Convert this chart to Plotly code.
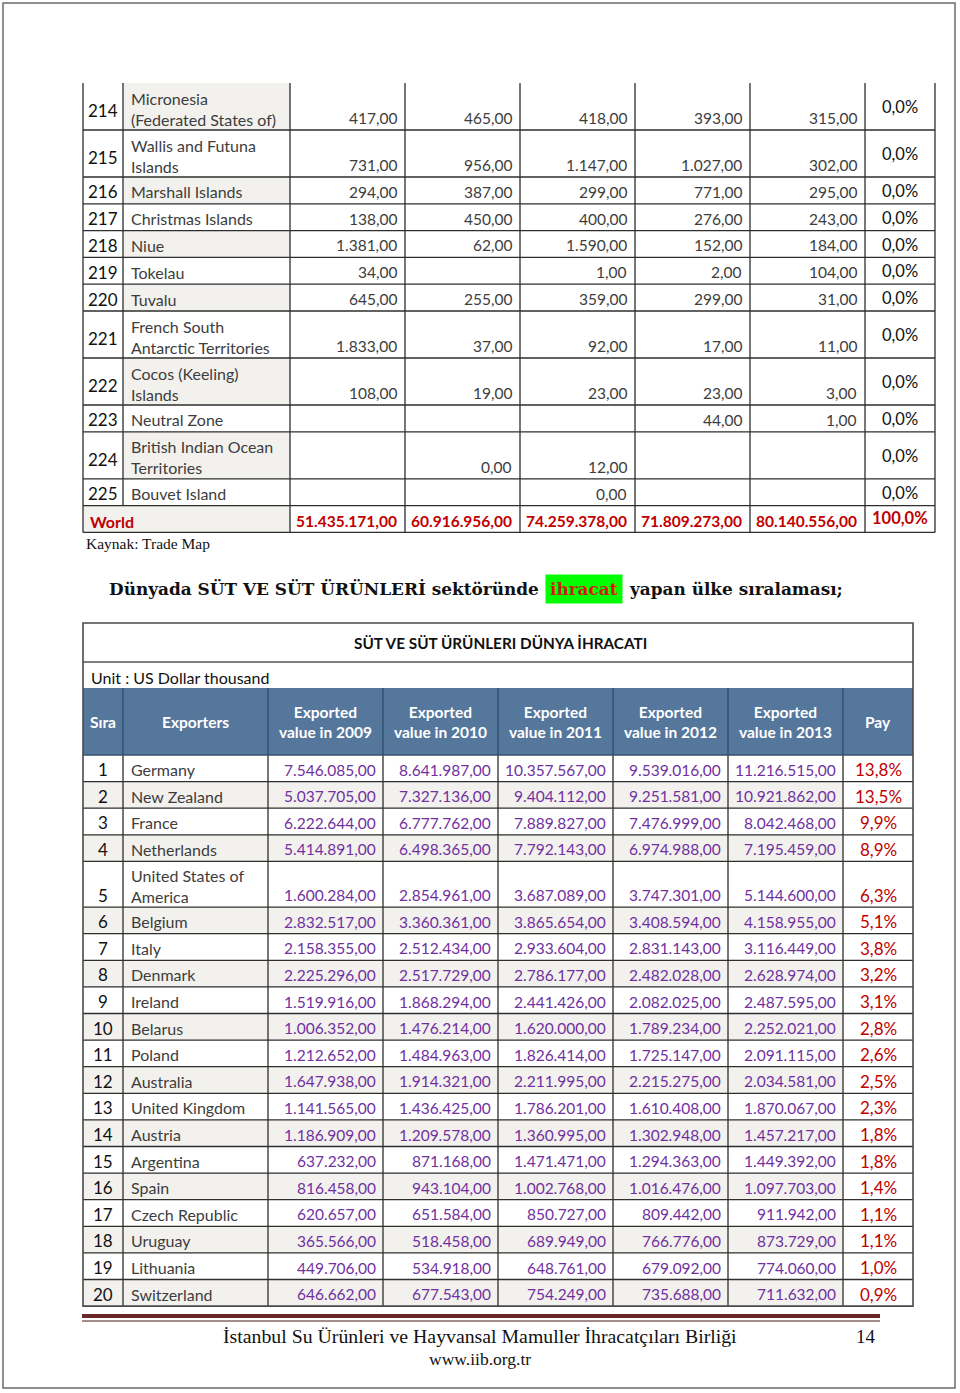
import plotly.graph_objects as go

# ---- upper table: end of the previous page's list ----
t1_rank = ["214", "215", "216", "217", "218", "219", "220", "221", "222", "223", "224", "225"]
t1_name = ["Micronesia<br>(Federated States of)", "Wallis and Futuna<br>Islands", "Marshall Islands",
           "Christmas Islands", "Niue", "Tokelau", "Tuvalu", "French South<br>Antarctic Territories",
           "Cocos (Keeling)<br>Islands", "Neutral Zone", "British Indian Ocean<br>Territories", "Bouvet Island"]
t1_2009 = ["417,00", "731,00", "294,00", "138,00", "1.381,00", "34,00", "645,00", "1.833,00", "108,00", "", "", ""]
t1_2010 = ["465,00", "956,00", "387,00", "450,00", "62,00", "", "255,00", "37,00", "19,00", "", "0,00", ""]
t1_2011 = ["418,00", "1.147,00", "299,00", "400,00", "1.590,00", "1,00", "359,00", "92,00", "23,00", "", "12,00", "0,00"]
t1_2012 = ["393,00", "1.027,00", "771,00", "276,00", "152,00", "2,00", "299,00", "17,00", "23,00", "44,00", "", ""]
t1_2013 = ["315,00", "302,00", "295,00", "243,00", "184,00", "104,00", "31,00", "11,00", "3,00", "1,00", "", ""]
t1_pay = ["0,0%"] * 12
world_label = "World"
world_values = ["51.435.171,00", "60.916.956,00", "74.259.378,00", "71.809.273,00", "80.140.556,00"]
world_pay = "100,0%"
source_note = "Kaynak: Trade Map"

# ---- lower table: top 20 dairy exporters ----
title_left = "Dünyada SÜT VE SÜT ÜRÜNLERİ sektöründe"
title_mark = "ihracat"
title_right = "yapan ülke sıralaması;"
t2_caption = "SÜT VE SÜT ÜRÜNLERI DÜNYA İHRACATI"
t2_unit = "Unit : US Dollar thousand"
t2_headers = ["Sıra", "Exporters", "Exported<br>value in 2009", "Exported<br>value in 2010",
              "Exported<br>value in 2011", "Exported<br>value in 2012", "Exported<br>value in 2013", "Pay"]
t2_rank = [str(i) for i in range(1, 21)]
t2_name = ["Germany", "New Zealand", "France", "Netherlands", "United States of<br>America", "Belgium",
           "Italy", "Denmark", "Ireland", "Belarus", "Poland", "Australia", "United Kingdom", "Austria",
           "Argentina", "Spain", "Czech Republic", "Uruguay", "Lithuania", "Switzerland"]
t2_2009 = ["7.546.085,00", "5.037.705,00", "6.222.644,00", "5.414.891,00", "1.600.284,00", "2.832.517,00",
           "2.158.355,00", "2.225.296,00", "1.519.916,00", "1.006.352,00", "1.212.652,00", "1.647.938,00",
           "1.141.565,00", "1.186.909,00", "637.232,00", "816.458,00", "620.657,00", "365.566,00",
           "449.706,00", "646.662,00"]
t2_2010 = ["8.641.987,00", "7.327.136,00", "6.777.762,00", "6.498.365,00", "2.854.961,00", "3.360.361,00",
           "2.512.434,00", "2.517.729,00", "1.868.294,00", "1.476.214,00", "1.484.963,00", "1.914.321,00",
           "1.436.425,00", "1.209.578,00", "871.168,00", "943.104,00", "651.584,00", "518.458,00",
           "534.918,00", "677.543,00"]
t2_2011 = ["10.357.567,00", "9.404.112,00", "7.889.827,00", "7.792.143,00", "3.687.089,00", "3.865.654,00",
           "2.933.604,00", "2.786.177,00", "2.441.426,00", "1.620.000,00", "1.826.414,00", "2.211.995,00",
           "1.786.201,00", "1.360.995,00", "1.471.471,00", "1.002.768,00", "850.727,00", "689.949,00",
           "648.761,00", "754.249,00"]
t2_2012 = ["9.539.016,00", "9.251.581,00", "7.476.999,00", "6.974.988,00", "3.747.301,00", "3.408.594,00",
           "2.831.143,00", "2.482.028,00", "2.082.025,00", "1.789.234,00", "1.725.147,00", "2.215.275,00",
           "1.610.408,00", "1.302.948,00", "1.294.363,00", "1.016.476,00", "809.442,00", "766.776,00",
           "679.092,00", "735.688,00"]
t2_2013 = ["11.216.515,00", "10.921.862,00", "8.042.468,00", "7.195.459,00", "5.144.600,00", "4.158.955,00",
           "3.116.449,00", "2.628.974,00", "2.487.595,00", "2.252.021,00", "2.091.115,00", "2.034.581,00",
           "1.870.067,00", "1.457.217,00", "1.449.392,00", "1.097.703,00", "911.942,00", "873.729,00",
           "774.060,00", "711.632,00"]
t2_pay = ["13,8%", "13,5%", "9,9%", "8,9%", "6,3%", "5,1%", "3,8%", "3,2%", "3,1%", "2,8%", "2,6%", "2,5%",
          "2,3%", "1,8%", "1,8%", "1,4%", "1,1%", "1,1%", "1,0%", "0,9%"]

footer_org = "İstanbul Su Ürünleri ve Hayvansal Mamuller İhracatçıları Birliği"
footer_web = "www.iib.org.tr"
page_no = "14"

# ---- page layout (pixels) ----
W, H = 960, 1393
SANS = "Lato"
SERIF = "Liberation Serif"
GRID = "#2e2e2e"
SHADE = "#f2f1ee"
TEXT = "#3d3d3d"
PURPLE = "#7030a0"
RED = "#c00000"
HEAD = "#56779c"

shapes = []
notes = []


def line(x0, y0, x1, y1, color=GRID, width=1.3):
    shapes.append(dict(type="line", xref="x", yref="y", x0=x0, y0=y0, x1=x1, y1=y1,
                       line=dict(color=color, width=width)))


def rect(x0, y0, x1, y1, fill, color=None, width=0):
    shapes.append(dict(type="rect", xref="x", yref="y", x0=x0, y0=y0, x1=x1, y1=y1,
                       fillcolor=fill, line=dict(color=color or fill, width=width), layer="below"))


def text(x, y, s, size, color=TEXT, anchor="left", family=SANS, bold=False, **kw):
    if bold:
        s = "<b>" + s + "</b>"
    notes.append(dict(x=x, y=y, xref="x", yref="y", text=s, showarrow=False, xanchor=anchor,
                      yanchor="middle", align=anchor if anchor != "center" else "center",
                      font=dict(family=family, size=size, color=color), **kw))


def row_edges(top, names, single, double):
    edges = [top]
    for n in names:
        edges.append(edges[-1] + (double if "<br>" in n else single))
    return edges


# page frame
rect(3, 3, 955, 1388, "rgba(0,0,0,0)", "#6b6b6b", 1.5)

# ---- upper table ----
c1 = [83, 123, 290, 405, 520, 635, 750, 865, 935]
r1 = row_edges(83, t1_name + [world_label], 26.8, 47)
t1_cols = [t1_2009, t1_2010, t1_2011, t1_2012, t1_2013]
for i in range(len(r1) - 1):
    top, bot = r1[i], r1[i + 1]
    mid = (top + bot) / 2
    if i % 2 == 0:
        rect(c1[1], top, c1[2], bot, SHADE)
    if i < len(t1_rank):
        dbl = "<br>" in t1_name[i]
        text((c1[0] + c1[1]) / 2, mid + 4 if dbl else bot - 12, t1_rank[i], 17, "#111", "center")
        text(c1[1] + 6, mid + 2 if dbl else bot - 12, t1_name[i], 16, TEXT)
        for j, col in enumerate(t1_cols):
            if col[i]:
                text(c1[j + 3] - 6, bot - 12, col[i], 15.5, TEXT, "right")
        text((c1[7] + c1[8]) / 2, mid + 0.5, t1_pay[i], 16.5, "#111", "center")
    else:
        rect(c1[0], top, c1[1], bot, SHADE)
        text(c1[0] + 5, bot - 11, world_label, 16, RED, bold=True)
        for j, v in enumerate(world_values):
            text(c1[j + 3] - 6, bot - 11, v, 15.5, RED, "right", bold=True)
        text((c1[7] + c1[8]) / 2, mid - 1, world_pay, 16.5, RED, "center", bold=True)
for x in c1:
    # the World row merges the rank and name cells
    line(x, r1[0], x, r1[-2] if x == c1[1] else r1[-1])
for y in r1[1:]:
    line(c1[0], y, c1[-1], y)
text(84, r1[-1] + 11, source_note, 15.5, "#111", family=SERIF)

# ---- title with highlighted word ----
ty = 589
TFONT = "DejaVu Serif"
text(541, ty, title_left, 16.9, "#111", "right", family=TFONT, bold=True)
text(583.5, ty, title_mark, 16.9, "#cc1f12", "center", family=TFONT, bold=True,
     bgcolor="#00ff00", borderpad=4)
text(627, ty, title_right, 16.9, "#111", family=TFONT, bold=True)

# ---- lower table ----
c2 = [83, 123, 268, 383, 498, 613, 728, 843, 913]
top2, cap_bot, head_top, head_bot = 623, 662, 688, 755
r2 = row_edges(head_bot, t2_name, 26.6, 45.7)
rect(c2[0], head_top, c2[-1], head_bot, HEAD)
text((c2[0] + c2[-1]) / 2 + 2, (top2 + cap_bot) / 2, t2_caption, 15.3, "#111", "center", bold=True)
text(c2[0] + 6, (cap_bot + head_top) / 2 + 2, t2_unit, 16, "#111")
for j, h in enumerate(t2_headers):
    text((c2[j] + c2[j + 1]) / 2, (head_top + head_bot) / 2, h, 15.5, "white", "center", bold=True)

t2_cols = [t2_2009, t2_2010, t2_2011, t2_2012, t2_2013]
for i in range(len(t2_rank)):
    top, bot = r2[i], r2[i + 1]
    mid = (top + bot) / 2
    dbl = "<br>" in t2_name[i]
    if i % 2 == 1:
        rect(c2[0], top, c2[7], bot, SHADE)
    text((c2[0] + c2[1]) / 2, bot - 12, t2_rank[i], 17, "#111", "center")
    text(c2[1] + 6, mid + 1.5 if dbl else bot - 12, t2_name[i], 16, TEXT)
    for j, col in enumerate(t2_cols):
        text(c2[j + 3] - 5, bot - 12, col[i], 15.5, PURPLE, "right")
    text((c2[7] + c2[8]) / 2, bot - 12, t2_pay[i], 17, RED, "center")

for x in c2[1:-1]:
    line(x, head_top, x, head_bot, "#34506f", 1.5)
    line(x, head_bot, x, r2[-1])
for y in r2[1:-1]:
    line(c2[0], y, c2[-1], y)
line(c2[0], head_bot, c2[-1], head_bot, "#34506f", 1.5)
line(c2[0], cap_bot, c2[-1], cap_bot, "#555", 1.3)
shapes.append(dict(type="rect", xref="x", yref="y", x0=c2[0], y0=top2, x1=c2[-1], y1=r2[-1],
                   line=dict(color="#4a4a4a", width=1.6)))

# ---- footer ----
line(82, 1316, 880, 1316, "#6b2626", 4)
line(82, 1321, 880, 1321, "#4a1a1a", 1)
text(480, 1336, footer_org, 19.8, "#111", "center", family=SERIF)
text(866, 1336, page_no, 19, "#111", "center", family=SERIF)
text(480, 1359, footer_web, 17.5, "#111", "center", family=SERIF)

fig = go.Figure()
fig.add_trace(go.Scatter(x=[0, W], y=[0, H], mode="markers", marker=dict(opacity=0),
                         hoverinfo="skip", showlegend=False))
fig.update_layout(
    width=W, height=H,
    margin=dict(l=0, r=0, t=0, b=0),
    paper_bgcolor="white", plot_bgcolor="white",
    xaxis=dict(range=[0, W], visible=False, fixedrange=True),
    yaxis=dict(range=[H, 0], visible=False, fixedrange=True),
    shapes=shapes, annotations=notes,
    showlegend=False,
)
# the page is a full-window picture, so drop the browser's default body margin
fig.write_html("out.html", config={"displayModeBar": False},
               post_script="document.body.style.margin = '0px';")
